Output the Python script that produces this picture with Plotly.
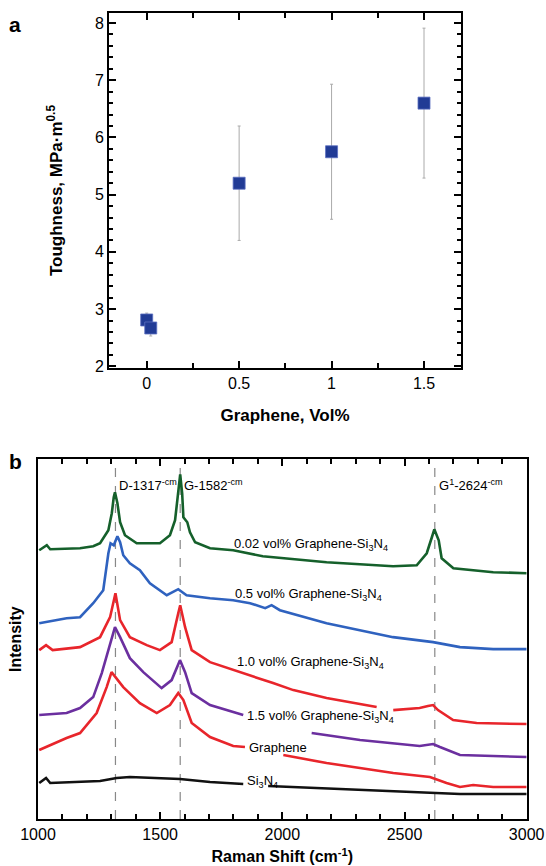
import plotly.graph_objects as go

# ---- panel a: toughness vs graphene content ----
vol = [0, 0.022, 0.5, 1.0, 1.5]
toughness = [2.81, 2.67, 5.2, 5.75, 6.6]
tough_err = [0.12, 0.14, 1.0, 1.18, 1.31]

# ---- panel b: Raman spectra (intensity in arbitrary units) ----
w_g002 = [1005, 1036, 1050, 1172, 1226, 1254, 1288, 1302, 1310, 1315, 1325, 1336, 1356, 1404, 1499,
          1540, 1561, 1572, 1578, 1582, 1590, 1595, 1611, 1622, 1643, 1704, 1799, 1920, 2181, 2453,
          2550, 2591, 2612, 2622, 2640, 2652, 2700, 2863, 3000]
i_g002 = [269, 274, 270, 271, 273, 276, 289, 306, 322, 327, 316, 297, 284, 276, 276,
          284, 299, 326, 342, 345, 326, 302, 297, 287, 277, 271, 269, 263, 257, 253,
          254, 266, 282, 290, 279, 261, 251, 247, 246]

w_g05 = [1005, 1117, 1172, 1226, 1267, 1288, 1297, 1310, 1325, 1336, 1349, 1376, 1417, 1458, 1527,
         1574, 1608, 1704, 1799, 1868, 1930, 1956, 1990, 2181, 2453, 2617, 2727, 2863, 3000]
i_g05 = [196, 201, 202, 216, 229, 266, 276, 274, 283, 277, 264, 256, 249, 236, 224,
         230, 224, 221, 219, 216, 211, 214, 209, 196, 182, 177, 172, 170, 170]

w_g10 = [1005, 1033, 1060, 1172, 1254, 1295, 1317, 1336, 1376, 1445, 1499, 1547, 1574, 1582, 1602,
         1629, 1704, 1868, 1962, 2045, 2181, 2386, 2420, 2454, 2562, 2596, 2617, 2637, 2699, 2795,
         3000]
i_g10 = [169, 174, 169, 172, 182, 202, 226, 199, 182, 174, 169, 177, 206, 214, 192,
         169, 157, 144, 136, 129, 121, 112, None, 109, 111, 113, 114, 109, 99, 96,
         95]

w_g15 = [1005, 1117, 1172, 1226, 1261, 1288, 1315, 1336, 1376, 1431, 1458, 1506, 1547, 1581, 1602,
         1629, 1704, 1840, 2000, 2120, 2318, 2562, 2617, 2645, 2727, 2863, 3000]
i_g15 = [104, 106, 111, 122, 146, 169, 192, 182, 161, 147, 141, 131, 139, 159, 147,
         126, 114, 104, None, 86, 79, 73, 75, 72, 64, 63, 62]

w_gr = [1005, 1117, 1172, 1240, 1281, 1301, 1349, 1417, 1486, 1540, 1574, 1595, 1629, 1704, 1799,
        1847, 1920, 2004, 2181, 2454, 2604, 2672, 2727, 2781, 2863, 3000]
i_gr = [69, 81, 86, 106, 132, 147, 132, 116, 106, 114, 126, 119, 96, 82, 73,
        72, None, 64, 56, 46, 42, 36, 32, 34, 32, 32]

w_si = [1005, 1033, 1050, 1254, 1322, 1376, 1581, 1704, 1840, 1900, 1942, 2318, 2590, 2727, 3000]
i_si = [36, 41, 36, 38, 41, 42, 40, 37, 35, None, 33, 29, 26, 25, 25]

peaks = [1317, 1582, 2624]
peak_labels = ["D-1317<sup>-cm</sup>", "G-1582<sup>-cm</sup>", "G<sup>1</sup>-2624<sup>-cm</sup>"]

series = [
    ("0.02 vol% Graphene-Si<sub>3</sub>N<sub>4</sub>", w_g002, i_g002, "#15602b", 1792, 275),
    ("0.5 vol% Graphene-Si<sub>3</sub>N<sub>4</sub>", w_g05, i_g05, "#2f62bf", 1798, 225),
    ("1.0 vol% Graphene-Si<sub>3</sub>N<sub>4</sub>", w_g10, i_g10, "#e8252b", 1806, 157),
    ("1.5 vol% Graphene-Si<sub>3</sub>N<sub>4</sub>", w_g15, i_g15, "#6b2f9f", 1847, 103),
    ("Graphene", w_gr, i_gr, "#e8252b", 1855, 72),
    ("Si<sub>3</sub>N<sub>4</sub>", w_si, i_si, "#111111", 1847, 38),
]

FONT = "Liberation Sans, Arial, Helvetica, sans-serif"

fig = go.Figure()

fig.add_trace(go.Scatter(
    x=vol, y=toughness, mode="markers", xaxis="x", yaxis="y",
    marker=dict(symbol="square", size=12, color="#213b95", line=dict(color="#5a6fc0", width=0.8)),
    error_y=dict(type="data", array=tough_err, color="#aaaaaa", thickness=1, width=1.5),
    showlegend=False,
))

for name, w, inten, col, lx, ly in series:
    fig.add_trace(go.Scatter(
        x=w, y=inten, mode="lines", xaxis="x2", yaxis="y2",
        line=dict(color=col, width=2.6), connectgaps=False, showlegend=False,
    ))
    fig.add_annotation(x=lx, y=ly, xref="x2", yref="y2", text=name, showarrow=False,
                       xanchor="left", yanchor="middle", font=dict(size=13, color="black"))

for p, lab in zip(peaks, peak_labels):
    fig.add_shape(type="line", x0=p, x1=p, y0=0, y1=1, xref="x2", yref="y2 domain",
                  line=dict(color="#888888", width=1.2, dash="dash"), layer="below")
    fig.add_annotation(x=p, y=334, xref="x2", yref="y2", text=lab, showarrow=False,
                       xanchor="left", yanchor="middle", xshift=2, font=dict(size=13, color="black"))

axis_common = dict(showline=True, linecolor="black", linewidth=2, mirror="ticks", automargin=False,
                   ticks="inside", tickcolor="black", tickwidth=1.5, showgrid=False, zeroline=False,
                   tickfont=dict(size=16, color="black"))

fig.update_layout(
    width=546, height=866,
    margin=dict(l=0, r=0, t=0, b=0),
    paper_bgcolor="white", plot_bgcolor="white",
    font=dict(family=FONT, color="black"),
    xaxis=dict(domain=[0.1996, 0.8443], anchor="y", range=[-0.204, 1.70],
               tickvals=[0, 0.5, 1, 1.5], ticktext=["0", "0.5", "1", "1.5"], ticklen=7,
               minor=dict(dtick=0.25, tick0=0, ticks="inside", ticklen=5, tickcolor="black"),
               title=dict(text="<b>Graphene, Vol%</b>", font=dict(size=17), standoff=18),
               **axis_common),
    yaxis=dict(domain=[0.575, 0.985], anchor="x", range=[1.97, 8.175], dtick=1, ticklen=7,
               minor=dict(dtick=0.2, tick0=0, ticks="inside", ticklen=4, tickcolor="black"),
               title=dict(text="<b>Toughness, MPa·m<sup>0.5</sup></b>", font=dict(size=17), standoff=28),
               **axis_common),
    xaxis2=dict(domain=[0.0696, 0.9646], anchor="y2", range=[1000, 3000], dtick=500, ticklen=7,
                minor=dict(dtick=100, tick0=0, ticks="inside", ticklen=5, tickcolor="black"),
                title=dict(text="<b>Raman Shift (cm<sup>-1</sup>)</b>", font=dict(size=16), standoff=9),
                **axis_common),
    yaxis2=dict(domain=[0.0543, 0.4696], anchor="x2", range=[0, 360], automargin=False,
                showticklabels=False, showline=True, linecolor="black", linewidth=2, mirror=True,
                ticks="", showgrid=False, zeroline=False,
                title=dict(text="<b>Intensity</b>", font=dict(size=16), standoff=10)),
)

fig.add_annotation(x=15 / 546, y=1 - 25 / 866, xref="paper", yref="paper", text="<b>a</b>",
                   showarrow=False, font=dict(size=21), xanchor="center", yanchor="middle")
fig.add_annotation(x=15 / 546, y=1 - 461 / 866, xref="paper", yref="paper", text="<b>b</b>",
                   showarrow=False, font=dict(size=21), xanchor="center", yanchor="middle")

# the page body has a default 8px margin; drop it so the figure fills the window
fig.write_html("out.html", config={"displayModeBar": False},
               post_script="document.body.style.margin='0';")
